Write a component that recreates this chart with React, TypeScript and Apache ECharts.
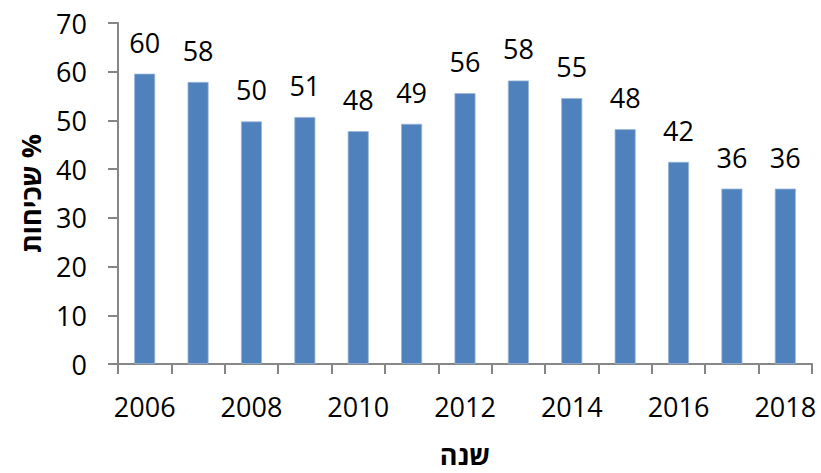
import React, { useEffect, useRef } from "react";
import * as echarts from "echarts";

const years = ["2006","2007","2008","2009","2010","2011","2012","2013","2014","2015","2016","2017","2018"];
const prevalence = [59.6, 57.9, 49.8, 50.7, 47.8, 49.3, 55.6, 58.2, 54.6, 48.2, 41.5, 36.0, 36.0];
const yTitle = "שכיחות %";
const xTitle = "שנה";

const FONT = "Open Sans, 'DejaVu Sans', sans-serif";

export default function App() {
  const ref = useRef<HTMLDivElement>(null);
  useEffect(() => {
    if (!ref.current) return;
    const chart = echarts.init(ref.current, undefined, { renderer: "svg" });
    chart.setOption({
      animation: false,
      backgroundColor: "#ffffff",
      grid: { left: 118, right: 9, top: 23, bottom: 102 },
      xAxis: {
        type: "category",
        data: years,
        name: xTitle,
        nameLocation: "middle",
        nameGap: 77,
        nameTextStyle: { fontFamily: FONT, fontSize: 27, fontWeight: "bold", color: "#000" },
        axisLine: { lineStyle: { color: "#868686", width: 2 } },
        axisTick: { show: true, interval: 0, length: 10, lineStyle: { color: "#868686", width: 2 } },
        axisLabel: { interval: 1, margin: 29, fontFamily: FONT, fontSize: 27, color: "#000" },
      },
      yAxis: {
        type: "value",
        min: 0,
        max: 70,
        interval: 10,
        name: yTitle,
        nameLocation: "middle",
        nameRotate: 90,
        nameGap: 74,
        nameTextStyle: { fontFamily: FONT, fontSize: 27, fontWeight: "bold", color: "#000" },
        axisLine: { show: true, lineStyle: { color: "#868686", width: 2 } },
        axisTick: { show: true, length: 10, lineStyle: { color: "#868686", width: 2 } },
        axisLabel: { margin: 31, fontFamily: FONT, fontSize: 27, color: "#000" },
        splitLine: { show: false },
      },
      series: [
        {
          type: "bar",
          data: prevalence,
          barWidth: 21,
          itemStyle: { color: "#4F81BD", borderColor: "#9BB5D9", borderWidth: 0.8 },
          label: {
            show: true,
            position: "top",
            distance: 18,
            fontFamily: FONT,
            fontSize: 27,
            color: "#000",
            formatter: (p: any) => String(Math.round(p.value)),
          },
        },
      ],
    });
    return () => chart.dispose();
  }, []);
  return <div ref={ref} style={{ width: 821, height: 473, position: "absolute", left: 0, top: 0 }} />;
}
